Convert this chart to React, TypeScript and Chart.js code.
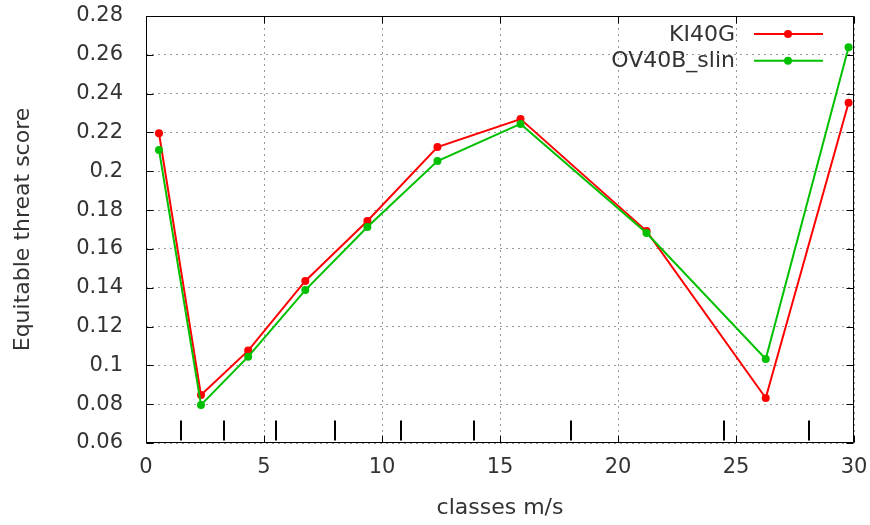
import { useEffect, useRef } from "react";
import { Chart, registerables } from "chart.js";

Chart.register(...registerables);

const xClasses = [0.55, 2.33, 4.33, 6.75, 9.38, 12.35, 15.87, 21.21, 26.26, 29.77];
const ki40g = [0.2196, 0.0847, 0.1076, 0.1435, 0.1744, 0.2125, 0.2269, 0.1692, 0.0832, 0.2353];
const ov40bSlin = [0.211, 0.0796, 0.1045, 0.1388, 0.1713, 0.2053, 0.2244, 0.1682, 0.1033, 0.2639];
const classBoundaries = [1.5, 3.3, 5.5, 8.0, 10.8, 13.9, 18.0, 24.5, 28.1];
const seriesLabels = ["KI40G", "OV40B_slin"];
const seriesColors = ["#ff0000", "#00c000"];
const yMin = 0.06;
const yMax = 0.28;
const yStep = 0.02;
const xMin = 0;
const xMax = 30;
const xStep = 5;
const xTitle = "classes m/s";
const yTitle = "Equitable threat score";

const FONT = "'DejaVu Sans', sans-serif";
const TEXT = "#333333";

const framePlugin = {
  id: "frame",
  beforeDatasetsDraw(chart: any) {
    const { ctx, chartArea: a, scales } = chart;
    const xs = scales.x;
    const ys = scales.y;
    ctx.save();
    ctx.strokeStyle = "#000";
    ctx.lineWidth = 1;
    const L = Math.round(a.left) + 0.5;
    const R = Math.round(a.right) - 0.5;
    const T = Math.round(a.top) + 0.5;
    const B = Math.round(a.bottom) - 0.5;
    ctx.beginPath();
    ctx.rect(L, T, R - L, B - T);
    for (let v = yMin; v <= yMax + 1e-9; v += yStep) {
      const py = Math.round(ys.getPixelForValue(v)) + 0.5;
      ctx.moveTo(L, py);
      ctx.lineTo(L + 7, py);
      ctx.moveTo(R, py);
      ctx.lineTo(R - 7, py);
    }
    for (let v = xMin; v <= xMax + 1e-9; v += xStep) {
      const px = Math.round(xs.getPixelForValue(v)) + 0.5;
      ctx.moveTo(px, B);
      ctx.lineTo(px, B - 7);
      ctx.moveTo(px, T);
      ctx.lineTo(px, T + 7);
    }
    ctx.stroke();
    ctx.lineWidth = 2;
    ctx.beginPath();
    for (const b of classBoundaries) {
      const px = Math.round(xs.getPixelForValue(b));
      ctx.moveTo(px, B - 22);
      ctx.lineTo(px, B - 2);
    }
    ctx.stroke();
    ctx.restore();
  },
  afterDraw(chart: any) {
    const { ctx, chartArea: a } = chart;
    ctx.save();
    ctx.font = `22px ${FONT}`;
    ctx.textAlign = "right";
    ctx.textBaseline = "middle";
    chart.data.datasets.forEach((ds: any, i: number) => {
      const y = a.top + 18 + i * 26.7;
      ctx.fillStyle = TEXT;
      ctx.fillText(ds.label, a.right - 119, y + 1);
      ctx.strokeStyle = ds.borderColor;
      ctx.lineWidth = 2;
      ctx.beginPath();
      ctx.moveTo(a.right - 100, y);
      ctx.lineTo(a.right - 31, y);
      ctx.stroke();
      ctx.fillStyle = ds.borderColor;
      ctx.beginPath();
      ctx.arc(a.right - 66, y, 4, 0, Math.PI * 2);
      ctx.fill();
    });
    ctx.restore();
  },
};

export default function App() {
  const ref = useRef<HTMLCanvasElement>(null);
  useEffect(() => {
    if (!ref.current) return;
    const mk = (vals: number[]) => xClasses.map((x, i) => ({ x, y: vals[i] }));
    const chart = new Chart(ref.current, {
      type: "line",
      data: {
        datasets: [
          {
            label: seriesLabels[0],
            data: mk(ki40g),
            borderColor: seriesColors[0],
            backgroundColor: seriesColors[0],
            borderWidth: 2,
            pointRadius: 4,
            pointHoverRadius: 4,
            pointBorderWidth: 0,
            tension: 0,
            order: 1,
          },
          {
            label: seriesLabels[1],
            data: mk(ov40bSlin),
            borderColor: seriesColors[1],
            backgroundColor: seriesColors[1],
            borderWidth: 2,
            pointRadius: 4,
            pointHoverRadius: 4,
            pointBorderWidth: 0,
            tension: 0,
            order: 0,
          },
        ],
      },
      options: {
        animation: false,
        responsive: true,
        maintainAspectRatio: false,
        layout: { padding: { left: 0, top: 16, right: 16, bottom: 0 } },
        plugins: { legend: { display: false }, tooltip: { enabled: false } },
        scales: {
          x: {
            type: "linear",
            min: xMin,
            max: xMax,
            afterFit: (s: any) => {
              s.height = 82;
              s.paddingLeft = 0;
              s.paddingRight = 0;
            },
            ticks: {
              stepSize: xStep,
              padding: 12,
              color: TEXT,
              font: { family: FONT, size: 21 },
              maxRotation: 0,
              callback: (v: any) => String(v),
            },
            grid: { color: "#999999", lineWidth: 1, drawTicks: false },
            border: { display: false, dash: [2, 4] },
            title: {
              display: true,
              text: xTitle,
              color: TEXT,
              font: { family: FONT, size: 22 },
              padding: { top: 0, bottom: 4 },
            },
          },
          y: {
            type: "linear",
            min: yMin,
            max: yMax,
            afterFit: (s: any) => {
              s.width = 146;
              s.paddingTop = 0;
              s.paddingBottom = 0;
            },
            ticks: {
              stepSize: yStep,
              padding: 23,
              color: TEXT,
              font: { family: FONT, size: 21 },
              callback: (v: any) => String(Number(Number(v).toFixed(2))),
            },
            grid: { color: "#999999", lineWidth: 1, drawTicks: false },
            border: { display: false, dash: [2, 4] },
            title: {
              display: true,
              text: yTitle,
              color: TEXT,
              font: { family: FONT, size: 22 },
              padding: { top: 10, bottom: 0 },
            },
          },
        },
      },
      plugins: [framePlugin],
    });
    return () => chart.destroy();
  }, []);
  return (
    <div style={{ position: "absolute", left: 0, top: 0, width: 870, height: 525, background: "#fff" }}>
      <canvas ref={ref} />
    </div>
  );
}
